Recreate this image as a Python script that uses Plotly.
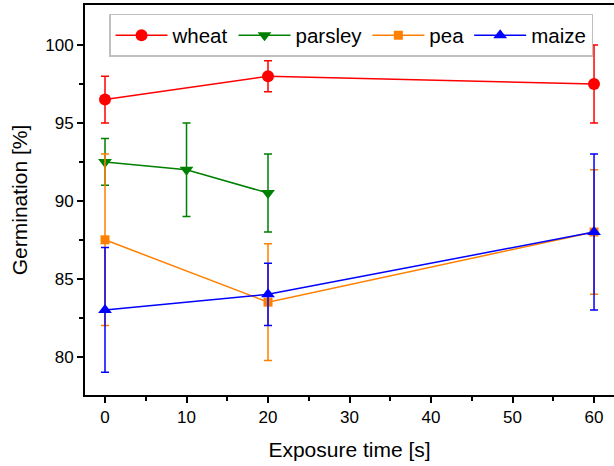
import plotly.graph_objects as go

# Data
wheat_x = [0, 20, 60]
wheat_y = [96.5, 98.0, 97.5]
wheat_err = [1.5, 1.0, 2.5]

parsley_x = [0, 10, 20]
parsley_y = [92.5, 92.0, 90.5]
parsley_err = [1.5, 3.0, 2.5]

pea_x = [0, 20, 60]
pea_y = [87.5, 83.5, 88.0]
pea_err = [5.5, 3.75, 4.0]

maize_x = [0, 20, 60]
maize_y = [83.0, 84.0, 88.0]
maize_err = [4.0, 2.0, 5.0]

series = [
    ("wheat", wheat_x, wheat_y, wheat_err, "#FF0000", "circle", 12),
    ("parsley", parsley_x, parsley_y, parsley_err, "#008000", "triangle-down", 12),
    ("pea", pea_x, pea_y, pea_err, "#FF8000", "square", 9),
    ("maize", maize_x, maize_y, maize_err, "#0000FF", "triangle-up", 12),
]

FONT = "Liberation Sans, Arial, sans-serif"

fig = go.Figure()
for name, x, y, e, c, sym, sz in series:
    fig.add_trace(go.Scatter(
        x=x, y=y, name=name, mode="lines+markers",
        line=dict(color=c, width=1.5),
        marker=dict(color=c, symbol=sym, size=sz),
        error_y=dict(type="data", array=e, visible=True, color=c, thickness=1.5, width=4),
    ))

axis_common = dict(
    showline=True, linecolor="black", linewidth=2,
    ticks="outside", tickwidth=1.5, ticklen=6, tickcolor="black",
    showgrid=False, zeroline=False,
    tickfont=dict(family=FONT, size=17, color="black"),
    title_font=dict(family=FONT, size=21, color="black"),
)

fig.update_xaxes(
    range=[-2.454, 62.45], tickvals=[0, 10, 20, 30, 40, 50, 60], mirror=True,
    minor=dict(tickvals=[5, 15, 25, 35, 45, 55], ticks="outside", ticklen=4, tickwidth=1.5, tickcolor="black"),
    title_text="Exposure time [s]", title_standoff=16,
    **axis_common,
)
fig.update_yaxes(
    range=[77.54, 102.57], tickvals=[80, 85, 90, 95, 100], mirror=False,
    minor=dict(tickvals=[82.5, 87.5, 92.5, 97.5], ticks="outside", ticklen=4, tickwidth=1.5, tickcolor="black"),
    title_text="Germination [%]", title_standoff=12,
    **axis_common,
)

fig.update_layout(
    width=614, height=466,
    margin=dict(l=85, r=0, t=5, b=71),
    plot_bgcolor="white", paper_bgcolor="white",
    font=dict(family=FONT, color="black"),
    legend=dict(
        orientation="h", x=0.0454, y=0.977, xanchor="left", yanchor="top",
        bgcolor="white", bordercolor="#C0C0C0", borderwidth=1.5,
        font=dict(size=20.5, color="black"),
        itemwidth=52, tracegroupgap=0,
    ),
)

fig.write_html("out.html")
